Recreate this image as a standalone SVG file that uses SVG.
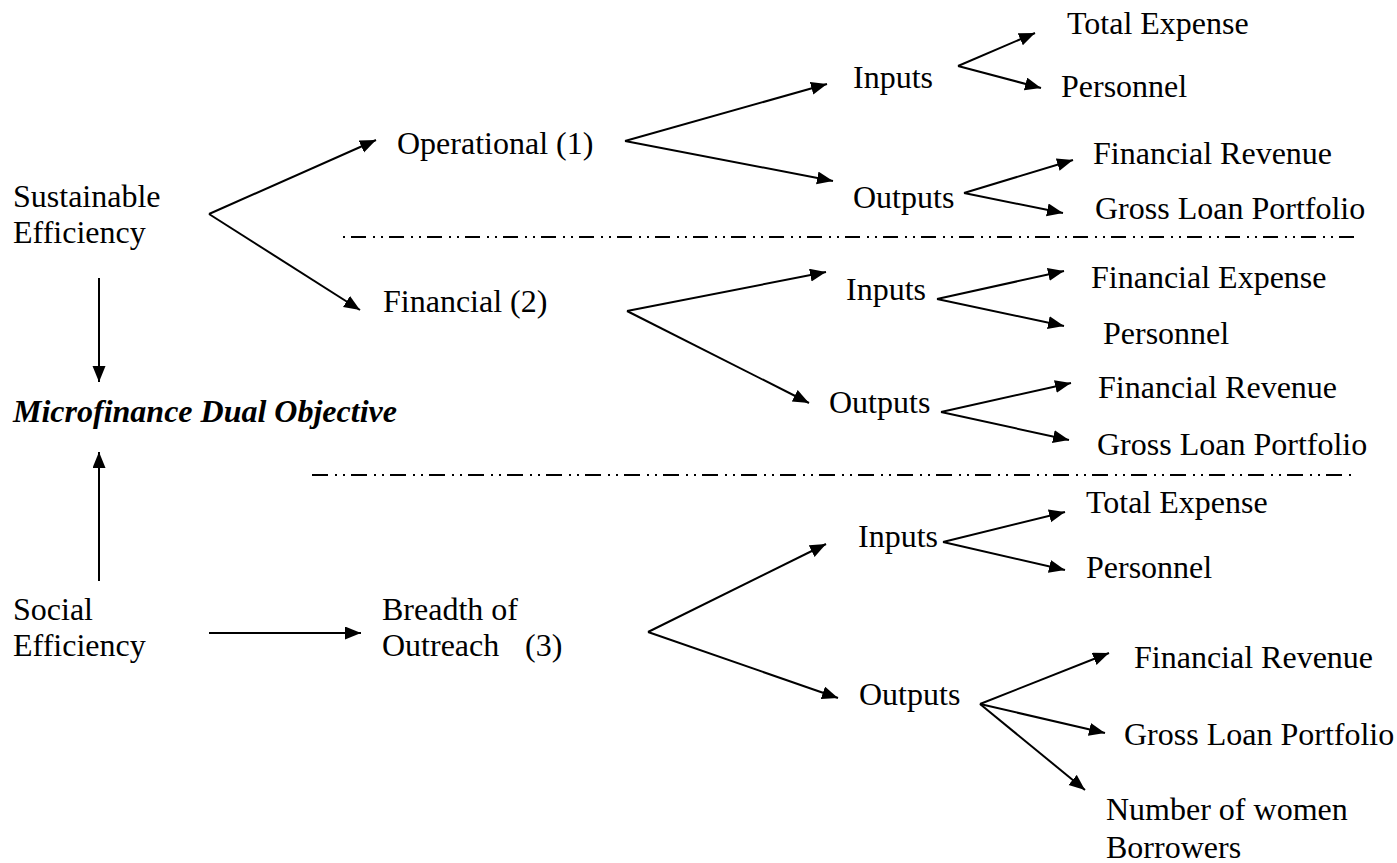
<svg xmlns="http://www.w3.org/2000/svg" width="1397" height="863" viewBox="0 0 1397 863">
<style>
.lbl text{font-size:32px;fill:#000}
.t{font-weight:bold;font-style:italic}
.c line{stroke:#000;stroke-width:2;fill:none;marker-end:url(#ah)}
.d{stroke:#000;stroke-width:2;fill:none}
</style>
<defs>
<marker id="ah" markerUnits="userSpaceOnUse" markerWidth="17" markerHeight="14" refX="16" refY="6.5" orient="auto" viewBox="0 0 17 14">
<path d="M0,0 L16,6.5 L0,13 z" fill="#000"/>
</marker>
</defs>
<rect width="1397" height="863" fill="#fff"/>
<g id="separators">
<line class="d" x1="343" y1="237" x2="1355" y2="237" stroke-dasharray="2 6 15 7 2 6"/>
<line class="d" x1="312" y1="475" x2="1354" y2="475" stroke-dasharray="16 7 2 6 2 6"/>
</g>
<g id="connectors" class="c">
<line x1="209" y1="214" x2="376" y2="140"/>
<line x1="209" y1="214" x2="360" y2="310"/>
<line x1="99" y1="278" x2="99" y2="382"/>
<line x1="99" y1="581" x2="99" y2="452"/>
<line x1="209" y1="633" x2="361" y2="633"/>
<line x1="625" y1="141" x2="827" y2="84"/>
<line x1="625" y1="141" x2="833" y2="181"/>
<line x1="958" y1="66" x2="1035" y2="33"/>
<line x1="958" y1="66" x2="1041" y2="88"/>
<line x1="964" y1="193" x2="1073" y2="160"/>
<line x1="964" y1="193" x2="1063" y2="213"/>
<line x1="627" y1="311" x2="826" y2="272"/>
<line x1="627" y1="311" x2="809" y2="403"/>
<line x1="937" y1="299" x2="1064" y2="271"/>
<line x1="937" y1="299" x2="1064" y2="326"/>
<line x1="941" y1="412" x2="1071" y2="383"/>
<line x1="941" y1="412" x2="1069" y2="440"/>
<line x1="648" y1="632" x2="826" y2="544"/>
<line x1="648" y1="632" x2="838" y2="698"/>
<line x1="943" y1="542" x2="1065" y2="512"/>
<line x1="943" y1="542" x2="1065" y2="570"/>
<line x1="980" y1="704" x2="1109" y2="653"/>
<line x1="980" y1="704" x2="1105" y2="733"/>
<line x1="980" y1="704" x2="1085" y2="790"/>
</g>
<g class="lbl" font-family="Liberation Serif, Times New Roman, serif" style="font-family:'Liberation Serif',serif">
<g id="sustainable"><text x="13" y="207">Sustainable</text><text x="13" y="243">Efficiency</text></g>
<g id="objective"><text class="t" x="13" y="422">Microfinance Dual Objective</text></g>
<g id="social"><text x="13" y="620">Social</text><text x="13" y="656">Efficiency</text></g>
<g id="operational"><text x="397" y="154">Operational (1)</text></g>
<g id="financial"><text x="383" y="312">Financial (2)</text></g>
<g id="breadth"><text x="382" y="620">Breadth of</text><text x="382" y="656">Outreach <tspan x="525">(3)</tspan></text></g>
<g id="op-inputs"><text x="853" y="88">Inputs</text></g>
<g id="op-outputs"><text x="853" y="208">Outputs</text></g>
<g id="op-total-expense"><text x="1067" y="34">Total Expense</text></g>
<g id="op-personnel"><text x="1061" y="97">Personnel</text></g>
<g id="op-fin-revenue"><text x="1093" y="164">Financial Revenue</text></g>
<g id="op-gross-loan"><text x="1095" y="219">Gross Loan Portfolio</text></g>
<g id="fin-inputs"><text x="846" y="300">Inputs</text></g>
<g id="fin-outputs"><text x="829" y="413">Outputs</text></g>
<g id="fin-fin-expense"><text x="1091" y="288">Financial Expense</text></g>
<g id="fin-personnel"><text x="1103" y="344">Personnel</text></g>
<g id="fin-fin-revenue"><text x="1098" y="398">Financial Revenue</text></g>
<g id="fin-gross-loan"><text x="1097" y="455">Gross Loan Portfolio</text></g>
<g id="br-inputs"><text x="858" y="547">Inputs</text></g>
<g id="br-outputs"><text x="859" y="705">Outputs</text></g>
<g id="br-total-expense"><text x="1086" y="513">Total Expense</text></g>
<g id="br-personnel"><text x="1086" y="578">Personnel</text></g>
<g id="br-fin-revenue"><text x="1134" y="668">Financial Revenue</text></g>
<g id="br-gross-loan"><text x="1124" y="745">Gross Loan Portfolio</text></g>
<g id="br-women"><text x="1106" y="820">Number of women</text><text x="1106" y="858">Borrowers</text></g>
</g>
</svg>
